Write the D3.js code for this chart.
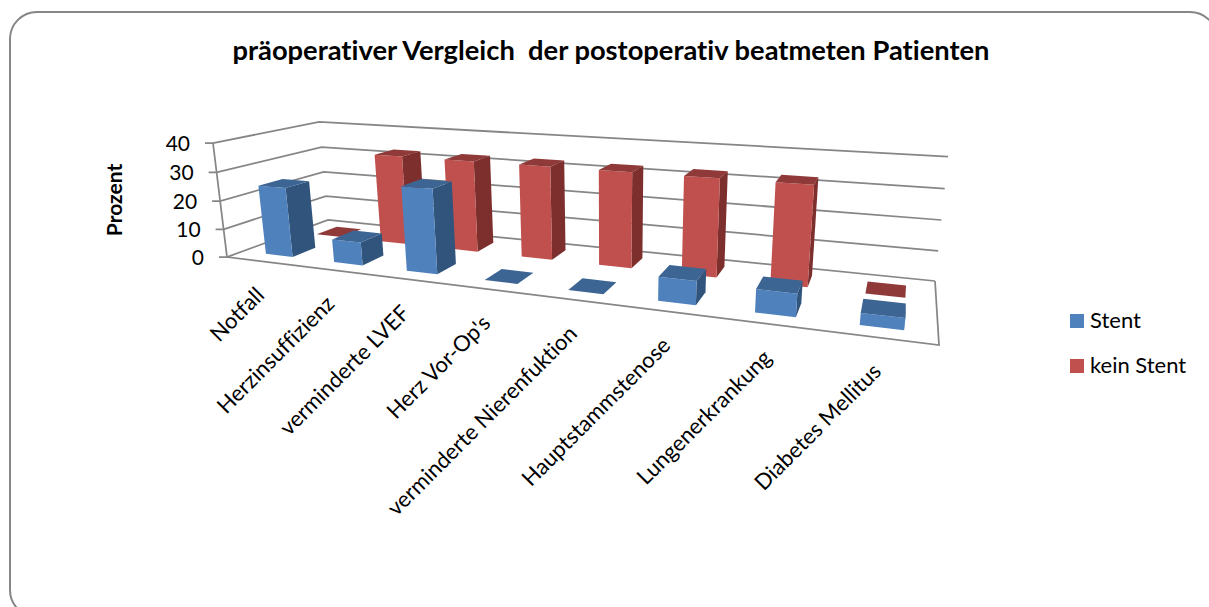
<!DOCTYPE html>
<html>
<head>
<meta charset="utf-8">
<script src="https://d3js.org/d3.v7.min.js"></script>
<style>
    html, body { margin: 0; padding: 0; background: #fff; overflow: hidden; }
    text { font-family: Lato, "Open Sans", sans-serif; fill: #000; font-variant-ligatures: none; font-kerning: normal; }
</style>
</head>
<body>
<svg id="chart" width="1209" height="607"></svg>
<script>
var categories = ['Notfall', 'Herzinsuffizienz', 'verminderte LVEF', "Herz Vor-Op's", 'verminderte Nierenfuktion', 'Hauptstammstenose', 'Lungenerkrankung', 'Diabetes Mellitus'];
var stent = [24.5, 8, 28.5, 0, 0, 7.5, 7, 3.5];
var keinStent = [0, 32.5, 32.5, 32.5, 32.5, 32.5, 32.5, 0];
var seriesNames = ['Stent', 'kein Stent'];
var yTicks = [0, 10, 20, 30, 40];

var svg = d3.select('#chart');

// Floor of the 3D box as seen in the picture: front left, front right, back right, back left
var floorQuad = [[227, 257], [939, 345], [935, 281], [328, 220]];
var frontLeftTop = [213, 143];

// Perspective camera fitted on the floor corners + one vertical edge
var q = floorQuad;
var dx1 = q[1][0] - q[2][0], dx2 = q[3][0] - q[2][0], sx = q[0][0] - q[1][0] + q[2][0] - q[3][0];
var dy1 = q[1][1] - q[2][1], dy2 = q[3][1] - q[2][1], sy = q[0][1] - q[1][1] + q[2][1] - q[3][1];
var det = dx1 * dy2 - dx2 * dy1;
var g = (sx * dy2 - dx2 * sy) / det;
var h = (dx1 * sy - sx * dy1) / det;
var k = -0.0352;
var cx = (1 + k) * frontLeftTop[0] - q[0][0];
var cy = (1 + k) * frontLeftTop[1] - q[0][1];

var y = d3.scaleLinear().domain([0, 40]).range([0, 1]);
var x = d3.scaleBand().domain(categories).range([0.006, 1]).paddingInner(0.6).paddingOuter(0.3);
var z = d3.scaleBand().domain(seriesNames).range([0, 1]).paddingInner(0.56).paddingOuter(0.28);

function project(u, v, value) {
    var t = y(value);
    var w = g * u + h * v + k * t + 1;
    return [
        ((q[1][0] - q[0][0] + g * q[1][0]) * u + (q[3][0] - q[0][0] + h * q[3][0]) * v + cx * t + q[0][0]) / w,
        ((q[1][1] - q[0][1] + g * q[1][1]) * u + (q[3][1] - q[0][1] + h * q[3][1]) * v + cy * t + q[0][1]) / w
    ];
}
function poly(points) {
    return points.map(function(p) { return p[0].toFixed(1) + ',' + p[1].toFixed(1); }).join(' ');
}

var colours = {
    'Stent': { front: '#4F81BD', side: '#31547D', top: '#3C6594' },
    'kein Stent': { front: '#C0504D', side: '#7D2F2D', top: '#8F3A38' }
};

// Frame
svg.append('rect')
    .attr('x', 10).attr('y', 12)
    .attr('width', 1207).attr('height', 605)
    .attr('rx', 27).attr('ry', 27)
    .attr('fill', '#fff')
    .attr('stroke', '#868686')
    .attr('stroke-width', 2);

// Title
svg.append('text')
    .attr('x', 611).attr('y', 60)
    .attr('text-anchor', 'middle')
    .attr('font-size', 27.3)
    .attr('font-weight', 'bold')
    .style('white-space', 'pre')
    .text('präoperativer Vergleich  der postoperativ beatmeten Patienten');

// Gridlines, side wall and back wall
var grid = svg.append('g')
    .attr('fill', 'none')
    .attr('stroke', '#868686')
    .attr('stroke-width', 1.75);

yTicks.forEach(function(t) {
    var a = project(0, 0, t), b = project(0, 1, t), c = project(1, 1, t);
    grid.append('polyline').attr('points', poly([[a[0] - 8, a[1]], a, b, c]));
});
grid.append('polyline').attr('points', poly([project(0, 0, 40), project(0, 0, 0), project(1, 0, 0), project(1, 1, 0)]));

// Y tick labels
svg.append('g').selectAll('text')
    .data(yTicks)
    .enter()
    .append('text')
    .attr('x', function(d) { return project(0, 0, d)[0] - 23; })
    .attr('y', function(d) { return project(0, 0, d)[1] + 8; })
    .attr('text-anchor', 'end')
    .attr('font-size', 21)
    .text(function(d) { return d; });

svg.append('text')
    .attr('transform', 'translate(122,200) rotate(-90)')
    .attr('text-anchor', 'middle')
    .attr('font-size', 21)
    .attr('font-weight', 'bold')
    .text('Prozent');

// Bars, back series first so Stent overlaps kein Stent
[['kein Stent', keinStent], ['Stent', stent]].forEach(function(s) {
    var name = s[0], values = s[1], col = colours[name];
    var v0 = z(name), v1 = v0 + z.bandwidth();
    var bars = svg.append('g').attr('class', 'series');

    categories.forEach(function(c, i) {
        var u0 = x(c), u1 = u0 + x.bandwidth(), val = values[i];
        if (val > 0) {
            bars.append('polygon').attr('fill', col.side)
                .attr('points', poly([project(u1, v0, 0), project(u1, v1, 0), project(u1, v1, val), project(u1, v0, val)]));
            bars.append('polygon').attr('fill', col.front)
                .attr('points', poly([project(u0, v0, 0), project(u1, v0, 0), project(u1, v0, val), project(u0, v0, val)]));
        }
        bars.append('polygon').attr('fill', col.top)
            .attr('points', poly([project(u0, v0, val), project(u1, v0, val), project(u1, v1, val), project(u0, v1, val)]));
    });
});

// Category labels
svg.append('g').selectAll('text')
    .data(categories)
    .enter()
    .append('text')
    .attr('transform', function(d) {
        var p = project(x(d) + x.bandwidth() / 2, 0, 0);
        return 'translate(' + (p[0] + 2) + ',' + (p[1] + 35) + ') rotate(-45)';
    })
    .attr('text-anchor', 'end')
    .attr('font-size', 22)
    .text(function(d) { return d; });

// Legend
var legend = svg.append('g').selectAll('g')
    .data(seriesNames)
    .enter()
    .append('g')
    .attr('transform', function(d, i) { return 'translate(1070,' + (314 + i * 45) + ')'; });
legend.append('rect')
    .attr('width', 14).attr('height', 14)
    .attr('fill', function(d) { return colours[d].front; });
legend.append('text')
    .attr('x', 20).attr('y', 14)
    .attr('font-size', 22)
    .text(function(d) { return d; });
</script>
</body>
</html>
